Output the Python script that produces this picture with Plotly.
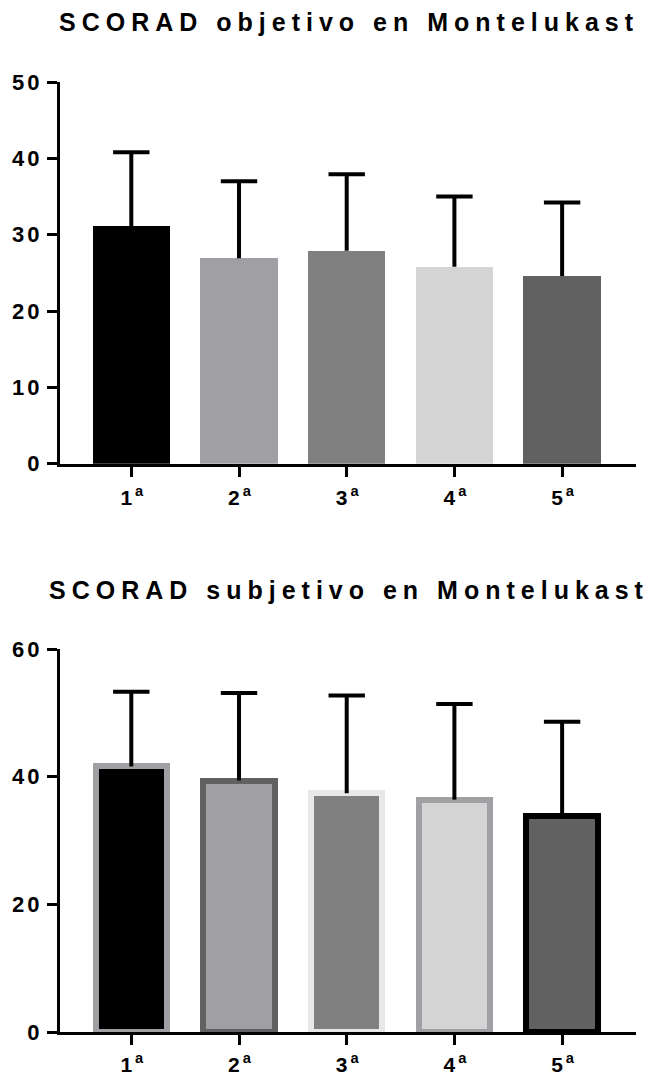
import plotly.graph_objects as go

# --- data ---------------------------------------------------------------
visits = ["1", "2", "3", "4", "5"]
visit_labels = ["1<sup>a</sup>", "2<sup>a</sup>", "3<sup>a</sup>", "4<sup>a</sup>", "5<sup>a</sup>"]

obj_mean = [31.1, 26.9, 27.9, 25.8, 24.6]
obj_sd = [9.7, 10.1, 10.0, 9.2, 9.6]

subj_mean = [41.6, 39.4, 37.4, 36.4, 33.9]
subj_sd = [11.7, 13.7, 15.3, 15.0, 14.7]

title_obj = "SCORAD objetivo en Montelukast"
title_subj = "SCORAD subjetivo en Montelukast"

# --- styling ------------------------------------------------------------
obj_fill = ["#000000", "#a0a0a4", "#808080", "#d4d4d4", "#616161"]
subj_fill = ["#000000", "#a0a0a4", "#808080", "#d4d4d4", "#616161"]
subj_edge = ["#a0a0a4", "#616161", "#e8e8e8", "#a0a0a4", "#000000"]

W, H = 654, 1076
M_L, M_R, M_T, M_B = 60, 18, 82, 44
PLOT_H = H - M_T - M_B


def py(pixel_y):
    """Convert a page pixel row to a paper y fraction."""
    return (H - M_B - pixel_y) / PLOT_H


def px(pixel_x):
    return (pixel_x - M_L) / (W - M_L - M_R)


xpos = list(range(len(visits)))
FONT = "Liberation Sans, Arial, sans-serif"

fig = go.Figure()


def add_panel(means, sds, fills, edges, edge_w, bar_w, xa, ya):
    fig.add_trace(go.Bar(
        x=xpos, y=means, width=bar_w,
        marker=dict(color=fills,
                    line=dict(color=edges if edges else fills, width=edge_w)),
        xaxis=xa, yaxis=ya, showlegend=False, hoverinfo="skip",
    ))
    # upper whiskers (mean -> mean + SD)
    wx, wy = [], []
    for x, m, s in zip(xpos, means, sds):
        wx += [x, x, None]
        wy += [m, m + s, None]
    fig.add_trace(go.Scatter(
        x=wx, y=wy, mode="lines", line=dict(color="black", width=4),
        xaxis=xa, yaxis=ya, showlegend=False, hoverinfo="skip",
    ))
    # caps on the whiskers
    fig.add_trace(go.Scatter(
        x=xpos, y=[m + s for m, s in zip(means, sds)], mode="markers",
        marker=dict(symbol="line-ew", size=26,
                    line=dict(color="black", width=4)),
        xaxis=xa, yaxis=ya, showlegend=False, hoverinfo="skip",
    ))


add_panel(obj_mean, obj_sd, obj_fill, None, 0, 0.718, "x", "y")
add_panel(subj_mean, subj_sd, subj_fill, subj_edge, 6, 0.662, "x2", "y2")

xrange = [-0.662, 4.686]
axis_common = dict(
    showline=True, linecolor="black", linewidth=3,
    ticks="outside", ticklen=10, tickwidth=3, tickcolor="black",
    showgrid=False, zeroline=False, automargin=False,
)
xtick_font = dict(family=FONT, size=21, color="black", weight="bold")
ytick_font = dict(family=FONT, size=22, color="black", weight="bold")

fig.update_layout(
    width=W, height=H,
    margin=dict(l=M_L, r=M_R, t=M_T, b=M_B),
    paper_bgcolor="white", plot_bgcolor="white",
    bargap=0,
    xaxis=dict(domain=[0, 1], range=xrange, tickvals=xpos, ticktext=visit_labels,
               anchor="y", ticklabelshift=2, ticklabelstandoff=3,
               tickfont=xtick_font, **axis_common),
    yaxis=dict(domain=[py(463.7), 1], range=[0, 50], tickvals=[0, 10, 20, 30, 40, 50],
               anchor="x", tickfont=ytick_font, **axis_common),
    xaxis2=dict(domain=[0, 1], range=xrange, tickvals=xpos, ticktext=visit_labels,
                anchor="y2", ticklabelshift=2, ticklabelstandoff=2,
                tickfont=xtick_font, **axis_common),
    yaxis2=dict(domain=[0, py(649)], range=[0, 60], tickvals=[0, 20, 40, 60],
                anchor="x2", tickfont=ytick_font, **axis_common),
    annotations=[
        dict(text="<b>%s</b>" % title_obj, xref="paper", yref="paper",
             x=px(349.4), y=py(38), xanchor="center", yanchor="bottom",
             showarrow=False, font=dict(family=FONT, size=25, color="black")),
        dict(text="<b>%s</b>" % title_subj, xref="paper", yref="paper",
             x=px(349.4), y=py(606), xanchor="center", yanchor="bottom",
             showarrow=False, font=dict(family=FONT, size=25, color="black")),
    ],
)

# Widen character spacing of titles and tick labels once the chart is drawn.
spacing_js = """
var gd = document.getElementById('{plot_id}');
function widen() {
  gd.querySelectorAll('.annotation-text').forEach(function(t) { t.style.letterSpacing = '6px'; });
  gd.querySelectorAll('.xtick text, .ytick text, .x2tick text, .y2tick text').forEach(function(t) { t.style.letterSpacing = '3px'; });
}
widen();
gd.on('plotly_afterplot', widen);
"""

fig.write_html("out.html", post_script=spacing_js)
